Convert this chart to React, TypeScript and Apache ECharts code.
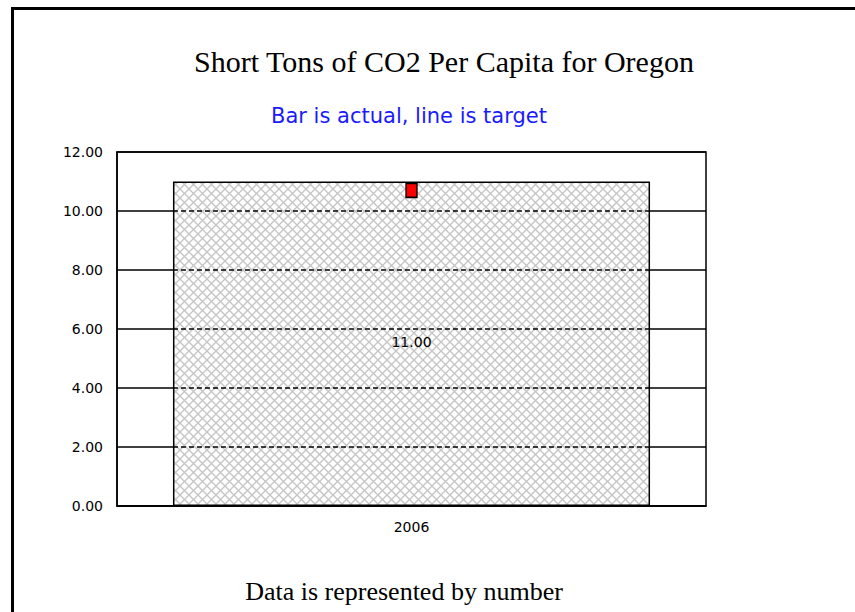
import React, { useEffect, useRef } from 'react';
import * as echarts from 'echarts';

const categories = ['2006'];
const actualValues = [11.0];
const targetValues = [10.7];
const gridValues = [2, 4, 6, 8, 10];
const titleText = 'Short Tons of CO2 Per Capita for Oregon';
const subtitleText = 'Bar is actual, line is target';
const footerText = 'Data is represented by number';

const BAR_RATIO = 0.81;

function makeHatch(): HTMLCanvasElement {
  const n = 9;
  const c = document.createElement('canvas');
  c.width = n;
  c.height = n;
  const ctx = c.getContext('2d')!;
  ctx.fillStyle = '#ffffff';
  ctx.fillRect(0, 0, n, n);
  ctx.strokeStyle = '#c6c6c6';
  ctx.lineWidth = 1.4;
  ctx.beginPath();
  ctx.moveTo(0, 0);
  ctx.lineTo(n, n);
  ctx.moveTo(n, 0);
  ctx.lineTo(0, n);
  ctx.stroke();
  return c;
}

export default function App() {
  const ref = useRef<HTMLDivElement>(null);
  useEffect(() => {
    if (!ref.current) return;
    const chart = echarts.init(ref.current, undefined, { renderer: 'svg' });
    const hatch = makeHatch();
    const labelFont = 'DejaVu Sans';
    chart.setOption({
      animation: false,
      backgroundColor: '#ffffff',
      graphic: [
        {
          type: 'rect',
          shape: { x: 12.5, y: 8.5, width: 1200, height: 1200 },
          style: { fill: 'none', stroke: '#000', lineWidth: 3 },
          z: 100,
        },
        {
          type: 'text',
          x: 444,
          y: 61,
          style: {
            text: titleText,
            fontFamily: 'Liberation Serif',
            fontSize: 30,
            fill: '#000',
            textAlign: 'center',
            textVerticalAlign: 'middle',
          },
        },
        {
          type: 'text',
          x: 409,
          y: 116,
          style: {
            text: subtitleText,
            fontFamily: labelFont,
            fontSize: 21,
            fill: '#1a1aff',
            textAlign: 'center',
            textVerticalAlign: 'middle',
          },
        },
        {
          type: 'text',
          x: 404,
          y: 591,
          style: {
            text: footerText,
            fontFamily: 'Liberation Serif',
            fontSize: 26,
            fill: '#000',
            textAlign: 'center',
            textVerticalAlign: 'middle',
          },
        },
      ],
      grid: {
        left: 117,
        top: 152,
        right: 149,
        bottom: 106,
        show: true,
        borderColor: '#000',
        borderWidth: 1.5,
        backgroundColor: 'transparent',
      },
      xAxis: {
        type: 'category',
        data: categories,
        axisTick: { show: false },
        axisLine: { lineStyle: { color: '#000', width: 1.5 } },
        axisLabel: { color: '#000', fontFamily: labelFont, fontSize: 14, margin: 14 },
      },
      yAxis: {
        type: 'value',
        min: 0,
        max: 12,
        interval: 2,
        axisTick: { show: false },
        axisLine: { show: true, lineStyle: { color: '#000', width: 1.5 } },
        splitLine: { show: true, lineStyle: { color: '#000', width: 1.5 } },
        axisLabel: {
          color: '#000',
          fontFamily: labelFont,
          fontSize: 14,
          margin: 14,
          formatter: (v: number) => v.toFixed(2),
        },
      },
      series: [
        {
          type: 'bar',
          data: actualValues,
          barWidth: `${BAR_RATIO * 100}%`,
          itemStyle: {
            color: { image: hatch, repeat: 'repeat' },
            borderColor: '#000',
            borderWidth: 1.5,
          },
          label: {
            show: true,
            position: 'inside',
            offset: [0, -2],
            color: '#000',
            fontFamily: labelFont,
            fontSize: 14,
            formatter: (p: any) => Number(p.value).toFixed(2),
          },
          z: 2,
        },
        {
          type: 'custom',
          data: gridValues.map((v) => [0, v]),
          renderItem: (params: any, api: any) => {
            const c = api.coord([api.value(0), api.value(1)]);
            const w = api.size([1, 0])[0] * BAR_RATIO;
            return {
              type: 'line',
              shape: { x1: c[0] - w / 2, y1: c[1], x2: c[0] + w / 2, y2: c[1] },
              style: { stroke: '#000', lineWidth: 1.5, lineDash: [5, 3] },
            };
          },
          z: 3,
          silent: true,
        },
        {
          type: 'line',
          data: targetValues,
          symbol: 'rect',
          symbolSize: [11, 14],
          showSymbol: true,
          lineStyle: { color: '#ff0000' },
          itemStyle: { color: '#ff0000', borderColor: '#000', borderWidth: 1.5 },
          z: 5,
        },
      ],
    });
    return () => chart.dispose();
  }, []);
  return (
    <div
      ref={ref}
      style={{ position: 'absolute', left: 0, top: 0, width: 855, height: 612 }}
    />
  );
}
